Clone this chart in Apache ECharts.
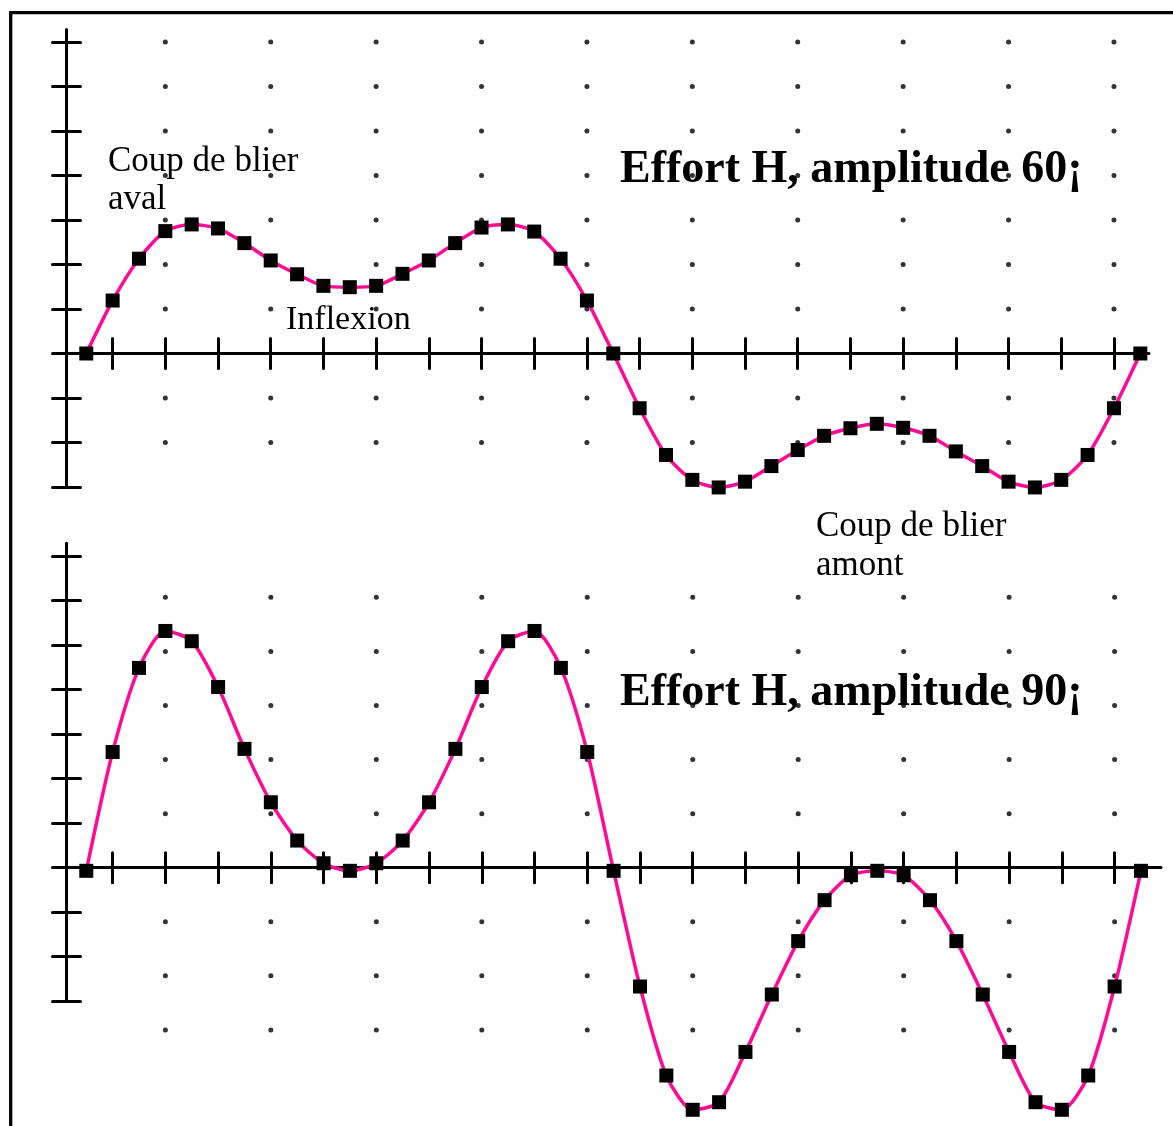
<!DOCTYPE html>
<html>
<head>
<meta charset="utf-8">
<script src="https://cdn.jsdelivr.net/npm/echarts@6/dist/echarts.min.js"></script>
<style>
html, body { margin: 0; padding: 0; background: #fff; }
#chartmain { width: 1173px; height: 1126px; }
</style>
</head>
<body>
<div id="chartmain"></div>
<script>
// abscisse : numero du point (41 points)
var pointIndex = [0, 1, 2, 3, 4, 5, 6, 7, 8, 9, 10, 11, 12, 13, 14, 15, 16, 17, 18, 19, 20,
    21, 22, 23, 24, 25, 26, 27, 28, 29, 30, 31, 32, 33, 34, 35, 36, 37, 38, 39, 40];
// Effort H, amplitude 60 (en graduations)
var effort60 = [0, 1.19, 2.13, 2.75, 2.90, 2.81, 2.48, 2.09, 1.78, 1.52, 1.49, 1.52, 1.79, 2.09, 2.48, 2.83, 2.90, 2.74, 2.13, 1.19,
    0, -1.23, -2.28, -2.84, -3.01, -2.88, -2.53, -2.17, -1.85, -1.68, -1.58, -1.67, -1.85, -2.20, -2.53, -2.88, -3.01, -2.84, -2.28, -1.23, 0];
// Effort H, amplitude 90
var effort90 = [-0.07, 2.60, 4.49, 5.32, 5.09, 4.06, 2.67, 1.47, 0.61, 0.10, -0.07, 0.10, 0.61, 1.47, 2.67, 4.06, 5.09, 5.32, 4.49, 2.60,
    -0.07, -2.67, -4.67, -5.44, -5.27, -4.14, -2.85, -1.65, -0.73, -0.17, -0.07, -0.17, -0.73, -1.65, -2.85, -4.14, -5.27, -5.44, -4.67, -2.67, -0.07];

// graduations
var xTicks = [1, 3, 5, 7, 9, 11, 13, 15, 17, 19, 21, 23, 25, 27, 29, 31, 33, 35, 37, 39];
var yTicks = [-3, -2, -1, 0, 1, 2, 3, 4, 5, 6, 7];
// grille de points
var dotCols = [3, 7, 11, 15, 19, 23, 27, 31, 35, 39];
var dotRows60 = [-2, -1, 1, 2, 3, 4, 5, 6, 7];
var dotRows90 = [-3.65, -2.43, -1.215, 1.215, 2.43, 3.645, 4.86, 6.075];

var pink = '#ff0a96';
var serif = '"Liberation Serif", "Times New Roman", serif';

function pairs(ys) {
    return ys.map(function (v, i) { return [pointIndex[i], v]; });
}
function grille(rows) {
    var out = [];
    dotCols.forEach(function (c) {
        rows.forEach(function (r) { out.push([c, r]); });
    });
    return out;
}

function axeX(grid, max, yIdx, inside) {
    return {
        type: 'value', gridIndex: grid, position: 'bottom',
        min: -0.75, max: max,
        axisLine: { show: !inside, onZero: true, onZeroAxisIndex: yIdx, lineStyle: { color: '#000', width: 3 } },
        axisTick: { show: true, inside: inside, length: 15, customValues: xTicks, lineStyle: { color: '#000', width: 3, cap: 'round' } },
        axisLabel: { show: false },
        splitLine: { show: false }
    };
}
function axeY(grid, max, inside) {
    return {
        type: 'value', gridIndex: grid, position: 'left', offset: 0,
        min: -3, max: max,
        axisLine: { show: !inside, onZero: false, lineStyle: { color: '#000', width: 3 } },
        axisTick: { show: true, inside: inside, length: 14, customValues: yTicks, lineStyle: { color: '#000', width: 3, cap: 'round' } },
        axisLabel: { show: false },
        splitLine: { show: false }
    };
}
function texte(str, x, y, size, bold) {
    return {
        type: 'text', x: x, y: y, z: 10,
        style: {
            text: str, fill: '#000', verticalAlign: 'middle',
            font: (bold ? 'bold ' : '') + size + 'px ' + serif
        }
    };
}
function courbe(name, data, grid) {
    return {
        name: name, type: 'line', xAxisIndex: grid * 2, yAxisIndex: grid * 2,
        data: pairs(data), smooth: 0.25, clip: false, z: 3,
        symbol: 'rect', symbolSize: 14, showAllSymbol: true,
        itemStyle: { color: '#000' },
        lineStyle: { color: pink, width: 3.5 }
    };
}
function points(rows, grid) {
    return {
        type: 'scatter', xAxisIndex: grid * 2, yAxisIndex: grid * 2,
        data: grille(rows), symbol: 'circle', symbolSize: 5, clip: false, silent: true, z: 1,
        itemStyle: { color: '#000' }
    };
}

var option = {
    animation: false,
    backgroundColor: '#fff',
    grid: [
        { left: 66.5, top: 29.5, width: 1082.5, height: 457.5 },
        { left: 66.5, top: 543.3, width: 1094.5, height: 457.9 }
    ],
    xAxis: [axeX(0, 40.33, 0, false), axeX(0, 40.33, 1, true), axeX(1, 40.76, 2, false), axeX(1, 40.76, 3, true)],
    yAxis: [axeY(0, 7.28, false), axeY(0, 7.28, true), axeY(1, 7.29, false), axeY(1, 7.29, true)],
    series: [
        points(dotRows60, 0),
        points(dotRows90, 1),
        courbe('amplitude 60', effort60, 0),
        courbe('amplitude 90', effort90, 1)
    ],
    graphic: [
        // cadre
        { type: 'line', shape: { x1: 10.7, y1: 11, x2: 10.7, y2: 1126 }, style: { stroke: '#000', lineWidth: 3.3 } },
        { type: 'line', shape: { x1: 9, y1: 12.7, x2: 1173, y2: 12.7 }, style: { stroke: '#000', lineWidth: 3.3 } },
        texte('Coup de blier', 108, 162, 35, false),
        texte('aval', 108, 200, 35, false),
        texte('Inflexion', 286, 320, 34, false),
        texte('Coup de blier', 816, 527, 35, false),
        texte('amont', 816, 566, 35, false),
        texte('Effort H, amplitude 60¡', 620, 170.5, 46, true),
        texte('Effort H, amplitude 90¡', 620, 693, 46, true)
    ]
};

var myChart = echarts.init(document.getElementById('chartmain'));
myChart.setOption(option);
</script>
</body>
</html>
